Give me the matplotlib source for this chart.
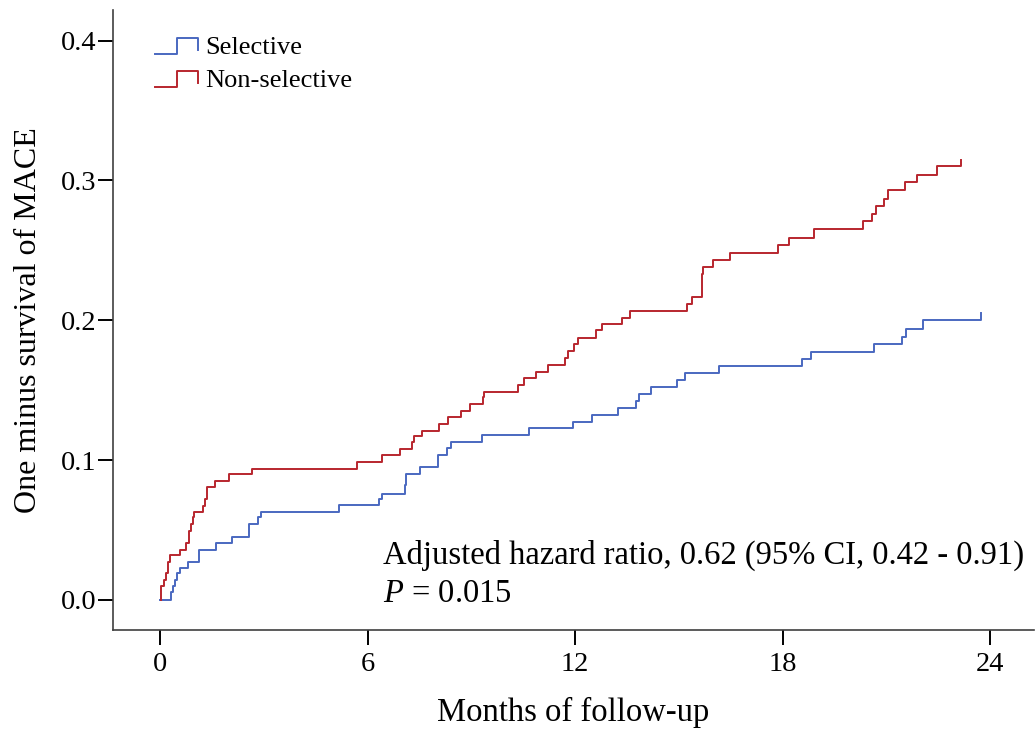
import matplotlib
matplotlib.use('Agg')
import matplotlib.pyplot as plt
from matplotlib.legend_handler import HandlerBase
from matplotlib.lines import Line2D
import numpy as np

plt.rcParams['font.family'] = 'Liberation Serif'
plt.rcParams['mathtext.fontset'] = 'custom'
plt.rcParams['mathtext.rm'] = 'Liberation Serif'
plt.rcParams['mathtext.it'] = 'Liberation Serif:italic'

## DATA (event times in months, cumulative incidence)
sel_t = [0.0, 0.32, 0.38, 0.43, 0.49, 0.58, 0.82, 1.14, 1.61, 2.08, 2.56, 2.83, 2.93,
         5.18, 6.32, 6.43, 7.08, 7.12, 7.51, 8.04, 8.30, 8.40, 9.31, 10.66, 11.94,
         12.49, 13.25, 13.77, 13.86, 14.20, 14.95, 15.18, 16.17, 18.55, 18.82,
         20.63, 21.45, 21.57, 22.05, 23.75]
sel_y = [0.0, 0.006, 0.010, 0.014, 0.019, 0.023, 0.027, 0.036, 0.041, 0.045, 0.054, 0.059, 0.063,
         0.068, 0.072, 0.076, 0.082, 0.090, 0.095, 0.104, 0.109, 0.113, 0.118, 0.123, 0.127,
         0.132, 0.137, 0.142, 0.147, 0.152, 0.157, 0.162, 0.167, 0.172, 0.177,
         0.183, 0.188, 0.194, 0.200, 0.205]
sel_end = 23.75

non_t = [0.03, 0.03, 0.10, 0.16, 0.23, 0.30, 0.58, 0.75, 0.83, 0.89, 0.94, 0.98, 1.25, 1.31,
         1.37, 1.58, 2.00, 2.66, 5.70, 6.43, 6.95, 7.29, 7.34, 7.58, 8.06, 8.33, 8.69, 8.95,
         9.35, 9.38, 10.35, 10.51, 10.88, 11.21, 11.70, 11.81, 11.97, 12.08, 12.61, 12.79,
         13.36, 13.60, 15.25, 15.37, 15.67, 15.70, 16.00, 16.49, 17.87, 18.19, 18.92, 20.32,
         20.59, 20.70, 20.92, 21.04, 21.55, 21.89, 22.46, 23.15]
non_y = [0.0, 0.010, 0.014, 0.019, 0.027, 0.032, 0.036, 0.041, 0.049, 0.054, 0.059, 0.063, 0.067, 0.072,
         0.081, 0.085, 0.090, 0.094, 0.099, 0.104, 0.108, 0.113, 0.117, 0.121, 0.126, 0.131, 0.135, 0.140,
         0.145, 0.149, 0.154, 0.159, 0.163, 0.168, 0.173, 0.178, 0.183, 0.187, 0.193, 0.197,
         0.202, 0.207, 0.212, 0.217, 0.233, 0.238, 0.243, 0.248, 0.254, 0.259, 0.265, 0.271,
         0.276, 0.282, 0.287, 0.293, 0.299, 0.304, 0.310, 0.315]
non_end = 23.15

groups = ['Selective', 'Non-selective']
colors = ['#4a68c0', '#b8262e']

x_ticks = [0, 6, 12, 18, 24]
y_ticks = [0.0, 0.1, 0.2, 0.3, 0.4]


# legend glyph drawn as a small step
class HandlerStep(HandlerBase):
    def create_artists(self, legend, orig_handle, xdescent, ydescent, width, height, fontsize, trans):
        xs = np.array([0, 0.5, 0.5, 1.0, 1.0]) * width - xdescent
        ys = np.array([0.0, 0.0, 1.0, 1.0, 0.25]) * height * 0.95 - ydescent - height * 0.05
        ln = Line2D(xs, ys, color=orig_handle.get_color(), linewidth=1.4)
        ln.set_transform(trans)
        return [ln]


fig = plt.figure(figsize=(10.35, 7.33), dpi=100)
ax = fig.add_axes([0.1092, 0.1405, 0.8898, 0.846])

h1, = ax.step(sel_t + [sel_end], sel_y + [sel_y[-1]], where='post', color=colors[0], linewidth=1.4)
h2, = ax.step(non_t + [non_end], non_y + [non_y[-1]], where='post', color=colors[1], linewidth=1.4)

ax.set_xlim(-1.36, 25.27)
ax.set_ylim(-0.0215, 0.422)
ax.set_xticks(x_ticks)
ax.set_xticklabels([str(v) for v in x_ticks])
ax.set_yticks(y_ticks)
ax.set_yticklabels(['%.1f' % v for v in y_ticks])
ax.tick_params(axis='both', direction='out', length=11, width=1.4, labelsize=20.5, color='black')
ax.tick_params(axis='y', pad=1)
ax.tick_params(axis='x', pad=5)

ax.spines['top'].set_visible(False)
ax.spines['right'].set_visible(False)
for s in ['left', 'bottom']:
    ax.spines[s].set_color('#404040')
    ax.spines[s].set_linewidth(1.2)

ax.set_xlabel('Months of follow-up', fontsize=23.5, labelpad=14)
ax.set_ylabel('One minus survival of MACE', fontsize=23, labelpad=13)

ax.legend([h1, h2], groups, handler_map={Line2D: HandlerStep()}, loc='upper left',
          bbox_to_anchor=(0.0456, 0.958), frameon=False, fontsize=19, handlelength=1.63,
          handleheight=0.6, handletextpad=0.27, labelspacing=0.42, borderpad=0, borderaxespad=0)

ax.text(0.293, 0.121, 'Adjusted hazard ratio, 0.62 (95% CI, 0.42 - 0.91)', transform=ax.transAxes,
        fontsize=23.5, va='center', ha='left')
ax.text(0.293, 0.059, '$P$ = 0.015', transform=ax.transAxes, fontsize=23.5, va='center', ha='left')

plt.savefig('out.png', dpi=100)
